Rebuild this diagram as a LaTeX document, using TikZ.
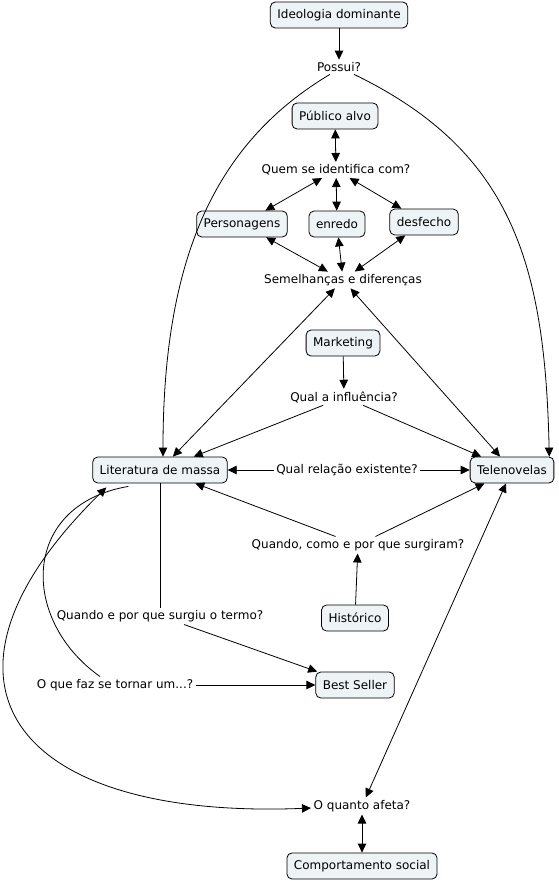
\documentclass[tikz,border=0pt]{standalone}
\usepackage{fontspec}
\setmainfont{DejaVu Sans}
\usetikzlibrary{arrows.meta}
\definecolor{cfill}{HTML}{EEF3F6}
\tikzset{
concept/.style={draw=black,rounded corners=5pt,line width=.8pt,fill=cfill,inner xsep=7pt,minimum height=26pt,font=\fontsize{12}{14}\selectfont},
phrase/.style={inner sep=2.5pt,font=\fontsize{12}{14}\selectfont},
arr/.style={-{Triangle[length=9pt,width=8.5pt]},line width=.8pt},
darr/.style={{Triangle[length=9pt,width=8.5pt]}-{Triangle[length=9pt,width=8.5pt]},line width=.8pt},
link/.style={line width=.8pt}}
\begin{document}
\begin{tikzpicture}[x=1pt,y=-1pt]
\useasboundingbox (0,0) rectangle (558,883);
\node[concept] (ideo) at (339,15) {Ideologia dominante};
\node[phrase] (possui) at (339,67) {Possui?};
\node[concept] (publico) at (335,116) {Público alvo};
\node[phrase] (quem) at (336,170) {Quem se identifica com?};
\node[concept] (pers) at (242,224) {Personagens};
\node[concept] (enredo) at (337,224) {enredo};
\node[concept] (desf) at (424,222) {desfecho};
\node[phrase] (semel) at (343,280) {Semelhanças e diferenças};
\node[concept] (mkt) at (343,343) {Marketing};
\node[phrase] (infl) at (344,397) {Qual a influência?};
\node[concept] (lit) at (160,470) {Literatura de massa};
\node[phrase] (rel) at (347,470) {Qual relação existente?};
\node[concept] (tele) at (512,470) {Telenovelas};
\node[phrase] (surg) at (358,545) {Quando, como e por que surgiram?};
\node[concept] (hist) at (355,618) {Histórico};
\node[phrase] (termo) at (160,616) {Quando e por que surgiu o termo?};
\node[phrase] (oque) at (115,685) {O que faz se tornar um...?};
\node[concept] (best) at (355,685) {Best Seller};
\node[phrase] (afeta) at (362,806) {O quanto afeta?};
\node[concept] (comp) at (362,866) {Comportamento social};
\draw[arr] (ideo) -- (possui);
\draw[arr] ([xshift=-9pt]possui.south) .. controls (220,140) and (163,250) .. ([xshift=3pt]lit.north);
\draw[arr] ([xshift=15pt]possui.south) .. controls (510,150) and (545,260) .. ([xshift=-5pt]tele.north east);
\draw[darr] (publico) -- (quem);
\draw[darr] (quem) -- (pers);
\draw[darr] (quem) -- (enredo);
\draw[darr] (quem) -- (desf);
\draw[darr] (pers) -- (semel);
\draw[darr] (enredo) -- (semel);
\draw[darr] (desf) -- (semel);
\draw[darr] (semel) -- (lit);
\draw[darr] (semel) -- (tele);
\draw[arr] (mkt) -- (infl);
\draw[arr] (infl) -- (lit);
\draw[arr] (infl) -- (tele);
\draw[arr] (rel) -- (lit);
\draw[arr] (rel) -- (tele);
\draw[arr] (surg) -- (lit);
\draw[arr] (surg) -- (tele);
\draw[arr] (hist) -- (surg);
\draw[link] (lit) -- (termo);
\draw[arr] (termo) -- (best);
\draw[link] ([xshift=36pt,yshift=-3pt]lit.south west) .. controls (20,505) and (20,620) .. ([xshift=-15pt]oque.north);
\draw[arr] (oque) -- (best);
\draw[darr] ([xshift=14pt,yshift=-4pt]lit.south west) .. controls (-90,680) and (10,820) .. (afeta);
\draw[darr] (tele) -- (afeta);
\draw[darr] (afeta) -- (comp);
\end{tikzpicture}
\end{document}
